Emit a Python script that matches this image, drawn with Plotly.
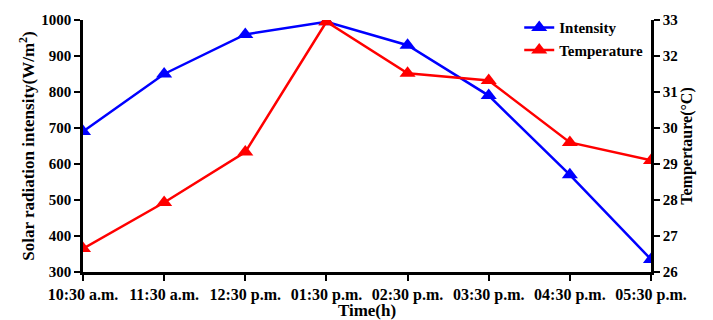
import plotly.graph_objects as go

times = ["10:30 a.m.", "11:30 a.m.", "12:30 p.m.", "01:30 p.m.", "02:30 p.m.", "03:30 p.m.", "04:30 p.m.", "05:30 p.m."]
intensity = [690, 850, 960, 995, 930, 790, 570, 335]
temperature = [26.65, 27.93, 29.33, 32.95, 31.52, 31.32, 29.6, 29.1]

FONT = "Liberation Serif"
xi = list(range(len(times)))

fig = go.Figure()
fig.add_trace(go.Scatter(x=xi, y=intensity, name="<b>Intensity</b>", mode="lines+markers",
                         line=dict(color="#0000ff", width=2.5),
                         marker=dict(symbol="triangle-up", size=14, color="#0000ff")))
fig.add_trace(go.Scatter(x=xi, y=temperature, name="<b>Temperature</b>", mode="lines+markers", yaxis="y2",
                         line=dict(color="#ff0000", width=2.5),
                         marker=dict(symbol="triangle-up", size=14, color="#ff0000")))

axis_common = dict(showgrid=False, zeroline=False, showline=True, linecolor="black", linewidth=2.5,
                   ticks="outside", ticklen=6, tickwidth=2, tickcolor="black", automargin=False,
                   tickfont=dict(family=FONT, size=15, color="black"))

fig.update_layout(
    width=705, height=312,
    margin=dict(l=75, r=62, t=12, b=48, autoexpand=False),
    plot_bgcolor="white", paper_bgcolor="white",
    font=dict(family=FONT, color="black"),
    xaxis=dict(range=[0, 7], tickvals=xi, ticktext=["<b>%s</b>" % t for t in times],
               title=dict(text="<b>Time(h)</b>", font=dict(family=FONT, size=17), standoff=0),
               **axis_common),
    yaxis=dict(range=[300, 1000], dtick=100, tickformat="d",
               title=dict(text="<b>Solar radiation intensity(W/m<sup>2</sup>)</b>", font=dict(family=FONT, size=17), standoff=3),
               **axis_common),
    yaxis2=dict(range=[26, 33], dtick=1, overlaying="y", side="right",
                title=dict(text="<b>Tempertaure(°C)</b>", font=dict(family=FONT, size=16), standoff=4),
                **axis_common),
    legend=dict(x=0.768, y=1.035, xanchor="left", yanchor="top", bgcolor="rgba(0,0,0,0)",
                font=dict(family=FONT, size=15, color="black"), tracegroupgap=0, itemwidth=30),
)
fig.update_xaxes(tickfont=dict(family=FONT, size=16, color="black"))
fig.update_yaxes(tickprefix="<b>", ticksuffix="</b>")

fig.write_html("out.html")
